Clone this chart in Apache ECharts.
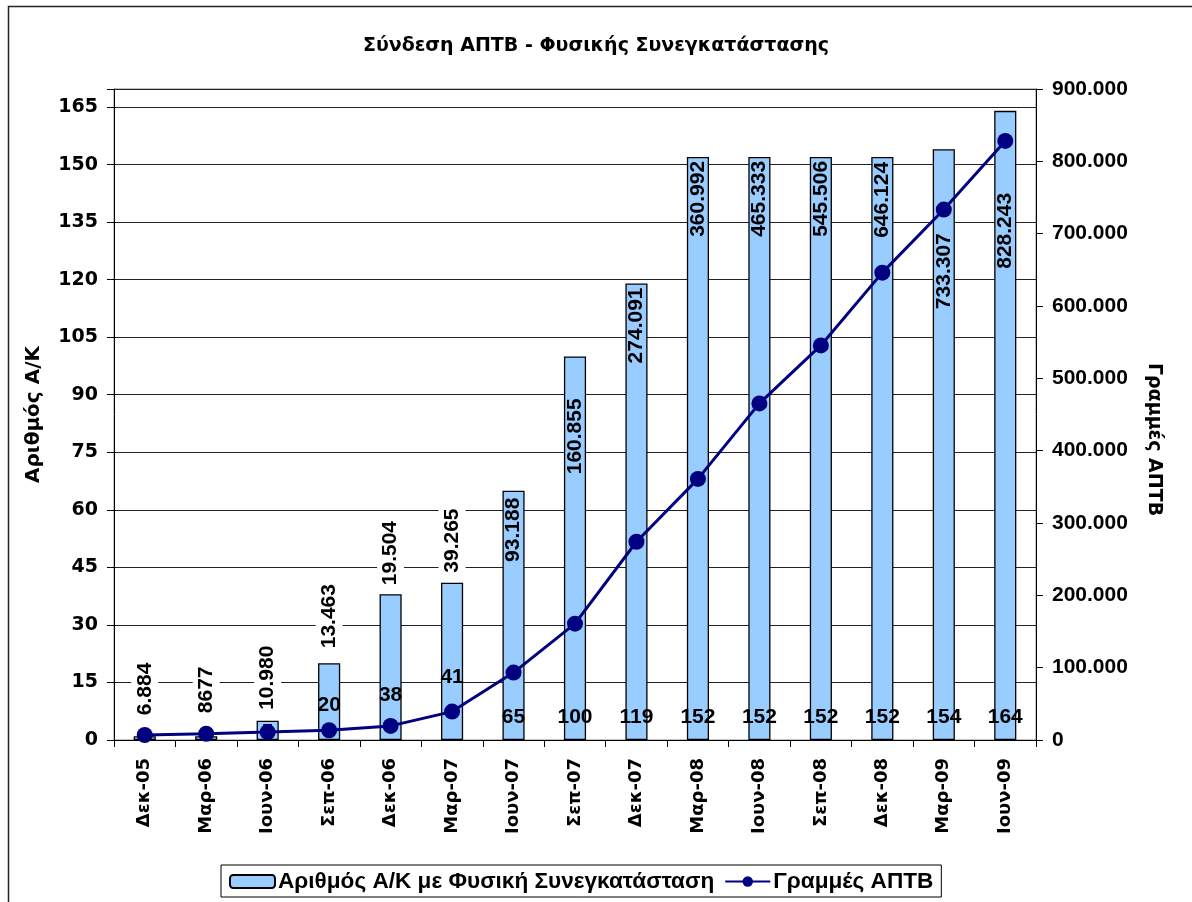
<!DOCTYPE html>
<html>
<head>
<meta charset="utf-8">
<script src="https://cdn.jsdelivr.net/npm/echarts@6/dist/echarts.min.js"></script>
<style>
html,body{margin:0;padding:0;background:#fff;}
#chart{width:1192px;height:902px;}
</style>
</head>
<body>
<div id="chart"></div>
<script>
// ---- data ----
var categories = ['Δεκ-05','Μαρ-06','Ιουν-06','Σεπ-06','Δεκ-06','Μαρ-07','Ιουν-07','Σεπ-07','Δεκ-07','Μαρ-08','Ιουν-08','Σεπ-08','Δεκ-08','Μαρ-09','Ιουν-09'];
var exchangeCounts = [1, 1, 5, 20, 38, 41, 65, 100, 119, 152, 152, 152, 152, 154, 164];
var aptbLines = [6884, 8677, 10980, 13463, 19504, 39265, 93188, 160855, 274091, 360992, 465333, 545506, 646124, 733307, 828243];
var aptbLabels = ['6.884','8677','10.980','13.463','19.504','39.265','93.188','160.855','274.091','360.992','465.333','545.506','646.124','733.307','828.243'];
var leftTicks = {min: 0, interval: 15};
var rightTicks = {min: 0, max: 900000, interval: 100000};
var seriesNames = ['Αριθμός Α/Κ με Φυσική Συνεγκατάσταση', 'Γραμμές ΑΠΤΒ'];

// ---- label layout (styling only) ----
var countLabelDist = [null, null, -3, 24, 34, 52, 12, 12, 12, 12, 12, 12, 12, 12, 12];
var lineLabelLayout = [
  ['top',19],['top',21],['top',9],['top',13],['top',7],['top',8],
  ['insideTop',7],['insideTop',42],['insideTop',4],['insideTop',4],['insideTop',4],
  ['insideTop',4],['insideTop',5],['insideTop',84],['insideTop',82]
];

function dotThousands(v){
  return String(Math.round(v)).replace(/\B(?=(\d{3})+(?!\d))/g, '.');
}

var labelFont = {fontFamily: 'Liberation Sans', fontWeight: 'bold', fontSize: 21, color: '#000'};

var barData = exchangeCounts.map(function(v, i){
  var d = countLabelDist[i];
  if (d === null) return {value: v, label: {show: false}};
  return {value: v, label: {show: true, position: 'insideBottom', distance: d}};
});

var ghostData = exchangeCounts.map(function(v, i){
  var pos = lineLabelLayout[i][0], dist = lineLabelLayout[i][1];
  var outside = pos === 'top';
  return {
    value: v,
    label: {
      show: true, position: pos, distance: dist, rotate: 90,
      align: outside ? 'left' : 'right', verticalAlign: 'middle',
      backgroundColor: outside ? '#fff' : 'transparent',
      padding: outside ? [3, 2] : 0,
      formatter: function(){ return aptbLabels[i]; }
    }
  };
});

var chart = echarts.init(document.getElementById('chart'));
chart.setOption({
  animation: false,
  backgroundColor: '#fff',
  title: {
    text: 'Σύνδεση ΑΠΤΒ - Φυσικής Συνεγκατάστασης',
    left: 'center', top: 32,
    textStyle: {fontFamily: 'DejaVu Sans', fontWeight: 'bold', fontSize: 19, color: '#000'}
  },
  graphic: [{
    type: 'rect', left: 6, top: 4, silent: true,
    shape: {width: 1200, height: 920},
    style: {fill: 'none', stroke: '#222', lineWidth: 1.5}
  }],
  legend: {
    data: seriesNames,
    left: 221, top: 865,
    borderColor: '#000', borderWidth: 1,
    padding: [5, 8, 4, 8],
    itemGap: 10, itemWidth: 45, itemHeight: 13,
    textStyle: {fontFamily: 'Liberation Sans', fontWeight: 'bold', fontSize: 22.6, color: '#000', padding: [0,0,0,-2]}
  },
  grid: {left: 114, right: 156, top: 89, bottom: 162, show: true, borderColor: '#888', borderWidth: 1},
  xAxis: {
    type: 'category', data: categories,
    axisLine: {lineStyle: {color: '#000', width: 1}},
    axisTick: {show: true, alignWithLabel: false, length: 7, lineStyle: {color: '#000'}},
    axisLabel: {rotate: 90, margin: 18, fontFamily: 'DejaVu Sans', fontWeight: 'bold', fontSize: 18, color: '#000'},
    splitLine: {show: false}
  },
  yAxis: [{
    type: 'value', min: leftTicks.min, max: 169.7, interval: leftTicks.interval,
    name: 'Αριθμός Α/Κ', nameLocation: 'middle', nameGap: 70, nameRotate: 90,
    nameTextStyle: {fontFamily: 'DejaVu Sans', fontWeight: 'bold', fontSize: 20, color: '#000'},
    axisLine: {show: true, lineStyle: {color: '#000'}},
    axisTick: {show: true, length: 7, lineStyle: {color: '#000'}},
    axisLabel: {margin: 16, fontFamily: 'DejaVu Sans', fontWeight: 'bold', fontSize: 19, color: '#000',
      formatter: function(v){ return (Math.abs(v % 15) < 1e-9) ? String(v) : ''; }},
    splitLine: {show: true, lineStyle: {color: '#222', width: 1}}
  }, {
    type: 'value', min: rightTicks.min, max: rightTicks.max, interval: rightTicks.interval,
    position: 'right',
    name: 'Γραμμές ΑΠΤΒ', nameLocation: 'middle', nameGap: 108, nameRotate: -90,
    nameTextStyle: {fontFamily: 'DejaVu Sans', fontWeight: 'bold', fontSize: 19, color: '#000', padding: [0,0,0,50]},
    axisLine: {show: true, lineStyle: {color: '#000'}},
    axisTick: {show: true, length: 7, lineStyle: {color: '#000'}},
    axisLabel: {margin: 16, fontFamily: 'Liberation Sans', fontWeight: 'bold', fontSize: 21, color: '#000',
      formatter: dotThousands},
    splitLine: {show: false}
  }],
  series: [{
    name: seriesNames[0], type: 'bar', yAxisIndex: 0, data: barData,
    barWidth: '36%',
    itemStyle: {color: '#99CCFF', borderColor: '#000', borderWidth: 1.3},
    label: labelFont,
    z: 2
  }, {
    name: 'ghost', type: 'bar', yAxisIndex: 0, data: ghostData,
    barWidth: '36%', barGap: '-100%', silent: true,
    itemStyle: {color: 'rgba(0,0,0,0)', borderWidth: 0},
    label: labelFont,
    z: 3
  }, {
    name: seriesNames[1], type: 'line', yAxisIndex: 1, data: aptbLines,
    symbol: 'circle', symbolSize: 16,
    lineStyle: {color: '#000080', width: 3},
    itemStyle: {color: '#000080'},
    z: 4
  }]
});
</script>
</body>
</html>
